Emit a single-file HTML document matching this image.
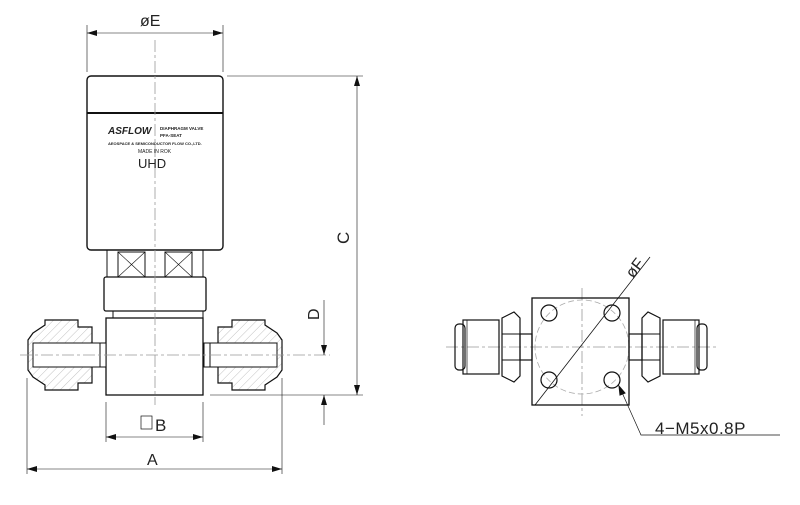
<!DOCTYPE html>
<html><head><style>body{margin:0;background:#fff}svg{display:block}text{font-family:"Liberation Sans",sans-serif;fill:#222}</style></head>
<body>
<svg width="800" height="505" viewBox="0 0 800 505" xmlns="http://www.w3.org/2000/svg">
<defs>
<marker id="ar" viewBox="0 0 10 6" refX="10" refY="3" markerWidth="14" markerHeight="6" markerUnits="userSpaceOnUse" orient="auto-start-reverse"><path d="M0,0L10,3L0,6z" fill="#111"/></marker>
<pattern id="h" width="6" height="6" patternUnits="userSpaceOnUse" patternTransform="rotate(45)"><line x1="0" y1="0" x2="0" y2="6" stroke="#999" stroke-width="0.6"/></pattern>
</defs>
<g stroke="#111" fill="none" stroke-width="1">
<line x1="87" y1="25" x2="87" y2="72" stroke-width="0.6"/>
<line x1="223" y1="25" x2="223" y2="72" stroke-width="0.6"/>
<line x1="87" y1="33" x2="223" y2="33" stroke-width="0.6" marker-start="url(#ar)" marker-end="url(#ar)"/>
<rect x="87" y="76" width="136" height="174" rx="4" stroke-width="1.4"/>
<line x1="87" y1="113" x2="223" y2="113" stroke-width="2"/>
<rect x="107" y="250" width="96" height="27"/>
<rect x="118" y="252" width="27" height="25"/><line x1="118" y1="252" x2="145" y2="277" stroke-width="0.6"/><line x1="145" y1="252" x2="118" y2="277" stroke-width="0.6"/>
<rect x="165" y="252" width="27" height="25"/><line x1="165" y1="252" x2="192" y2="277" stroke-width="0.6"/><line x1="192" y1="252" x2="165" y2="277" stroke-width="0.6"/>
<rect x="104" y="277" width="102" height="34" rx="2" stroke-width="1.3"/>
<rect x="113" y="311" width="90" height="7"/>
<rect x="106" y="318" width="97" height="77" stroke-width="1.3"/>
<path d="M33,333 L45,325 L45,320 L78,320 L78,327 L92,327 L92,345 L100,345 L100,365 L92,365 L92,383 L78,383 L78,390 L45,390 L45,385 L33,377 L28,370 L28,340 Z" fill="url(#h)" stroke-width="1.2"/>
<rect x="33" y="343" width="67" height="24" fill="#fff" stroke-width="1"/>
<rect x="100" y="343" width="6" height="24" fill="#fff"/>
<path d="M277,333 L265,325 L265,320 L232,320 L232,327 L218,327 L218,345 L210,345 L210,365 L218,365 L218,383 L232,383 L232,390 L265,390 L265,385 L277,377 L282,370 L282,340 Z" fill="url(#h)" stroke-width="1.2"/>
<rect x="210" y="343" width="67" height="24" fill="#fff"/>
<rect x="204" y="343" width="6" height="24" fill="#fff"/>
<g stroke="#999" stroke-width="0.8" stroke-dasharray="12,3,3,3">
<line x1="155" y1="40" x2="155" y2="405"/>
<line x1="20" y1="355" x2="330" y2="355"/>
<line x1="446" y1="347" x2="716" y2="347"/>
<line x1="582" y1="288" x2="582" y2="416"/>
</g>
<line x1="227" y1="76" x2="363" y2="76" stroke-width="0.6"/>
<line x1="210" y1="395" x2="363" y2="395" stroke-width="0.6"/>
<line x1="357" y1="76" x2="357" y2="395" stroke-width="0.6" marker-start="url(#ar)" marker-end="url(#ar)"/>
<line x1="324" y1="300" x2="324" y2="355" stroke-width="0.6" marker-end="url(#ar)"/>
<line x1="324" y1="425" x2="324" y2="395" stroke-width="0.6" marker-end="url(#ar)"/>
<line x1="106" y1="402" x2="106" y2="442" stroke-width="0.6"/>
<line x1="203" y1="402" x2="203" y2="442" stroke-width="0.6"/>
<line x1="106" y1="437" x2="203" y2="437" stroke-width="0.6" marker-start="url(#ar)" marker-end="url(#ar)"/>
<rect x="141" y="416" width="11" height="13" stroke-width="0.7"/>
<line x1="27" y1="378" x2="27" y2="474" stroke-width="0.6"/>
<line x1="282" y1="378" x2="282" y2="474" stroke-width="0.6"/>
<line x1="27" y1="469" x2="282" y2="469" stroke-width="0.6" marker-start="url(#ar)" marker-end="url(#ar)"/>
<circle cx="582" cy="347" r="47" stroke="#aaa" stroke-width="0.8" stroke-dasharray="6,3"/>
<rect x="532" y="298" width="97" height="107" stroke-width="1.3"/>
<g stroke-width="1.2">
<circle cx="549" cy="313" r="8"/><circle cx="612" cy="313" r="8"/>
<circle cx="549" cy="380" r="8"/><circle cx="612" cy="380" r="8"/>
</g>
<rect x="455" y="324" width="10" height="46" rx="4" stroke-width="1.2"/>
<rect x="463" y="320" width="36" height="54" stroke-width="1.2"/>
<line x1="467" y1="320" x2="467" y2="374" stroke-width="0.7"/>
<path d="M502,318 L514,312 L520,318 L520,376 L514,382 L502,376 Z" stroke-width="1.2"/>
<line x1="502" y1="334" x2="520" y2="334"/><line x1="502" y1="360" x2="520" y2="360"/>
<rect x="520" y="334" width="12" height="26" stroke-width="1.2"/>
<rect x="697" y="324" width="10" height="46" rx="4" stroke-width="1.2"/>
<rect x="663" y="320" width="36" height="54" stroke-width="1.2"/>
<line x1="695" y1="320" x2="695" y2="374" stroke-width="0.7"/>
<path d="M660,318 L648,312 L642,318 L642,376 L648,382 L660,376 Z" stroke-width="1.2"/>
<line x1="642" y1="334" x2="660" y2="334"/><line x1="642" y1="360" x2="660" y2="360"/>
<rect x="629" y="334" width="13" height="26" stroke-width="1.2"/>
<line x1="535" y1="405" x2="650" y2="257" stroke-width="0.8"/>
<path d="M620,388 L641,435 L780,435" stroke-width="0.7"/>
<path d="M619,386 l1,9 l5,-2 z" fill="#111"/>
</g>
<text x="140" y="26" font-size="16">øE</text>
<text x="155" y="431" font-size="17">B</text>
<text x="147" y="465" font-size="16">A</text>
<text transform="translate(349,244) rotate(-90)" font-size="17">C</text>
<text transform="translate(319,320) rotate(-90)" font-size="16">D</text>
<text transform="translate(633,279) rotate(-52)" font-size="16">øF</text>
<text x="655" y="434" font-size="17" letter-spacing="0.5">4−M5x0.8P</text>
<text x="108" y="134" font-size="10" font-style="italic" font-weight="bold">ASFLOW</text>
<text x="160" y="130" font-size="4.5" font-weight="bold">DIAPHRAGM VALVE</text>
<text x="160" y="137" font-size="4.5" font-weight="bold">PFA-SEAT</text>
<text x="108" y="145" font-size="4" font-weight="bold">AEOSPACE &amp; SEMICONDUCTOR FLOW CO.,LTD.</text>
<text x="138" y="153" font-size="5">MADE IN ROK</text>
<text x="138" y="168" font-size="13">UHD</text>
</svg>
</body></html>
